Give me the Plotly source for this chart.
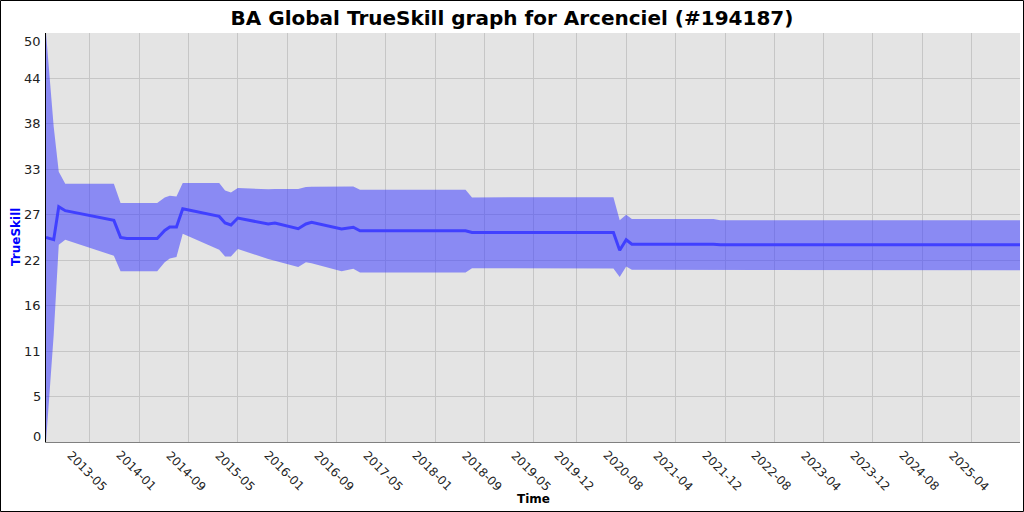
import plotly.graph_objects as go

# ---- data ----
dates = ["2012-09-27", "2012-11-04", "2012-11-29", "2012-12-31", "2013-08-28",
         "2013-09-30", "2013-10-31", "2014-03-30", "2014-05-06", "2014-05-31",
         "2014-07-03", "2014-08-03", "2015-01-30", "2015-02-28", "2015-03-29",
         "2015-05-02", "2015-09-29", "2015-11-01", "2016-02-24", "2016-04-02",
         "2016-04-30", "2016-09-25", "2016-11-22", "2016-12-25", "2018-05-30",
         "2018-07-01", "2020-05-29", "2020-06-29", "2020-07-31", "2020-08-28",
         "2021-10-05", "2021-11-07", "2025-11-26"]
mu = [25.0, 24.73, 28.77, 28.28, 27.09, 25.01, 24.89, 24.89, 25.87, 26.28,
      26.28, 28.52, 27.58, 26.77, 26.53, 27.38, 26.65, 26.77, 26.08, 26.65,
      26.85, 26.04, 26.26, 25.83, 25.83, 25.61, 25.61, 23.45, 24.73, 24.18,
      24.18, 24.12, 24.12]
upper = [50.0, 38.55, 33.04, 31.58, 31.58, 29.22, 29.22, 29.22, 29.90, 30.11,
         30.02, 31.66, 31.66, 30.76, 30.51, 31.05, 30.90, 30.93, 30.93, 31.17,
         31.21, 31.25, 31.25, 30.84, 30.84, 29.90, 29.93, 27.11, 27.79, 27.26,
         27.26, 27.11, 27.11]
lower = [0.0, 13.12, 24.12, 24.73, 22.78, 20.86, 20.86, 20.86, 21.96, 22.44,
         22.62, 25.46, 23.51, 22.69, 22.69, 23.59, 22.37, 22.16, 21.39, 21.96,
         21.86, 20.88, 21.19, 20.73, 20.73, 21.25, 21.22, 20.17, 21.47, 21.06,
         21.06, 21.00, 21.00]

x_tick_labels = ["2013-05", "2014-01", "2014-09", "2015-05", "2016-01", "2016-09",
                 "2017-05", "2018-01", "2018-09", "2019-05", "2019-12", "2020-08",
                 "2021-04", "2021-12", "2022-08", "2023-04", "2023-12", "2024-08",
                 "2025-04"]
y_tick_labels = ["0", "5", "11", "16", "22", "27", "33", "38", "44", "50"]
y_max = 50

# ---- figure ----
W, H = 1024, 512
ML, MR, MT, MB = 46, 4, 33, 70
pw, ph = W - ML - MR, H - MT - MB
FONT = "DejaVu Sans"

fig = go.Figure()
fig.add_trace(go.Scatter(x=dates, y=lower, mode="lines", line=dict(width=0),
                         hoverinfo="skip", showlegend=False))
fig.add_trace(go.Scatter(x=dates, y=upper, mode="lines", line=dict(width=0),
                         fill="tonexty", fillcolor="rgba(64,64,255,0.55)",
                         hoverinfo="skip", showlegend=False))
fig.add_trace(go.Scatter(x=dates, y=mu, mode="lines",
                         line=dict(color="#4040ff", width=3),
                         showlegend=False))

y_tickvals = [i * y_max / (len(y_tick_labels) - 1) for i in range(len(y_tick_labels))]
x_tickvals = [t + "-01" for t in x_tick_labels]

fig.update_layout(
    width=W, height=H,
    margin=dict(l=ML, r=MR, t=MT, b=MB, autoexpand=False),
    paper_bgcolor="white",
    plot_bgcolor="#e4e4e4",
    font=dict(family=FONT, size=12, color="#222222"),
    title=dict(text="<b>BA Global TrueSkill graph for Arcenciel (#194187)</b>",
               x=0.5, xref="container", xanchor="center",
               y=1 - 18 / H, yref="container", yanchor="middle",
               font=dict(family=FONT, size=20, color="black")),
    xaxis=dict(
        type="date",
        range=[dates[0], dates[-1]],
        tickvals=x_tickvals, showticklabels=False,
        showgrid=True, gridcolor="#c6c6c6", gridwidth=1,
        showline=True, linecolor="#808080", linewidth=1,
        ticks="", zeroline=False, automargin=False,
    ),
    yaxis=dict(
        range=[0, y_max],
        tickvals=y_tickvals, showticklabels=False,
        showgrid=True, gridcolor="#c6c6c6", gridwidth=1,
        showline=True, linecolor="black", linewidth=1,
        ticks="", zeroline=False, automargin=False,
    ),
)

# y tick labels (end labels nudged inside the plot height, as in the reference)
n_y = len(y_tick_labels)
for i, (tv, tl) in enumerate(zip(y_tickvals, y_tick_labels)):
    shift = 6 if i == 0 else (-8 if i == n_y - 1 else 0)
    fig.add_annotation(x=-3 / pw, y=tv, xref="paper", yref="y", text=tl,
                       showarrow=False, xanchor="right", yanchor="middle",
                       yshift=shift,
                       font=dict(family=FONT, size=13, color="#222222"))

# rotated x tick labels, centred just below each tick
for tv, tl in zip(x_tickvals, x_tick_labels):
    fig.add_annotation(x=tv, y=-(471 - (H - MB)) / ph, xref="x", yref="paper",
                       text=tl, textangle=45, showarrow=False,
                       xanchor="center", yanchor="middle", xshift=-3,
                       font=dict(family=FONT, size=12, color="#222222"))

# axis titles
fig.add_annotation(x=(533 - ML) / pw, y=-(499 - (H - MB)) / ph, xref="paper", yref="paper",
                   text="<b>Time</b>", showarrow=False, xanchor="center", yanchor="middle",
                   font=dict(family=FONT, size=12, color="black"))
fig.add_annotation(x=-(ML - 16) / pw, y=(H - MB - 237) / ph, xref="paper", yref="paper",
                   text="<b>TrueSkill</b>", showarrow=False, textangle=-90,
                   xanchor="center", yanchor="middle",
                   font=dict(family=FONT, size=12, color="#0000ff"))

# outer black frame around the whole image
fig.add_shape(type="rect", xref="paper", yref="paper",
              x0=-(ML - 0.5) / pw, x1=1 + (MR - 0.5) / pw,
              y0=-(MB - 0.5) / ph, y1=1 + (MT - 0.5) / ph,
              line=dict(color="black", width=1), layer="above")

fig.write_html("out.html", config={"displayModeBar": False},
               post_script="document.body.style.margin='0';document.body.style.padding='0';")
